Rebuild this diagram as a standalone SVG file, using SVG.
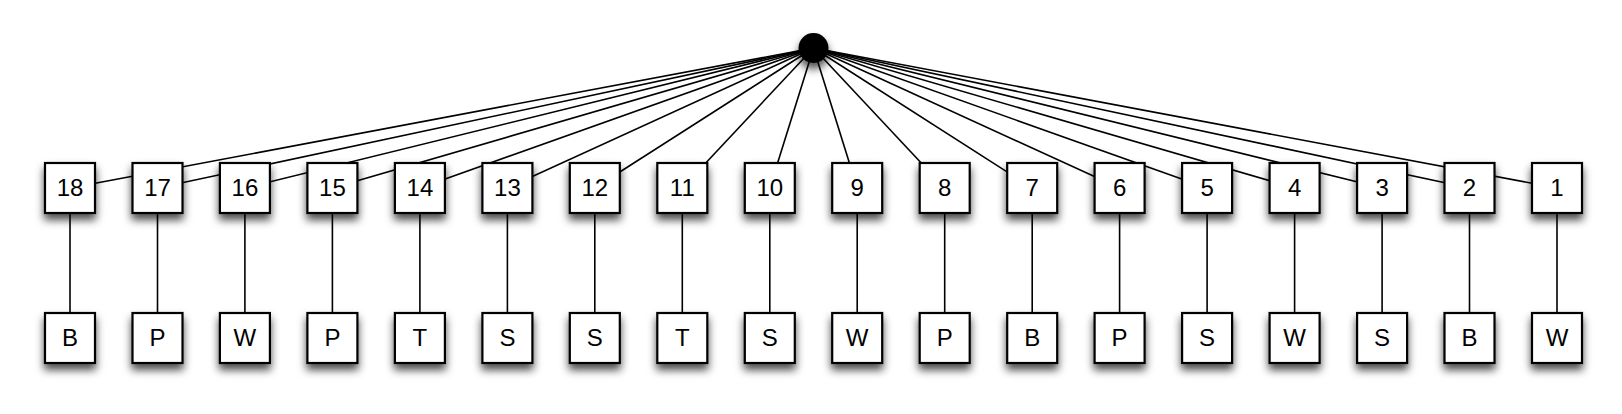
<svg xmlns="http://www.w3.org/2000/svg" width="1622" height="414" viewBox="0 0 1622 414">
<style>
.box{fill:#fff;stroke:#000;stroke-width:2.2;filter:url(#sh)}
.lbl{font-family:"Liberation Sans",Arial,sans-serif;font-size:24px;text-anchor:middle;fill:#000}
.e{stroke:#000;stroke-width:1.6;fill:none}
</style>
<defs>
<filter id="sh" x="-40%" y="-40%" width="180%" height="200%">
<feDropShadow dx="0" dy="6" stdDeviation="4.5" flood-color="#000" flood-opacity="0.7"/>
</filter>
</defs>
<rect width="1622" height="414" fill="#fff"/>
<g id="connectors">
<line class="e" x1="813.5" y1="48" x2="70" y2="188"/>
<line class="e" x1="813.5" y1="48" x2="157.5" y2="188"/>
<line class="e" x1="813.5" y1="48" x2="244.9" y2="188"/>
<line class="e" x1="813.5" y1="48" x2="332.4" y2="188"/>
<line class="e" x1="813.5" y1="48" x2="419.9" y2="188"/>
<line class="e" x1="813.5" y1="48" x2="507.4" y2="188"/>
<line class="e" x1="813.5" y1="48" x2="594.8" y2="188"/>
<line class="e" x1="813.5" y1="48" x2="682.3" y2="188"/>
<line class="e" x1="813.5" y1="48" x2="769.8" y2="188"/>
<line class="e" x1="813.5" y1="48" x2="857.2" y2="188"/>
<line class="e" x1="813.5" y1="48" x2="944.7" y2="188"/>
<line class="e" x1="813.5" y1="48" x2="1032.2" y2="188"/>
<line class="e" x1="813.5" y1="48" x2="1119.6" y2="188"/>
<line class="e" x1="813.5" y1="48" x2="1207.1" y2="188"/>
<line class="e" x1="813.5" y1="48" x2="1294.6" y2="188"/>
<line class="e" x1="813.5" y1="48" x2="1382.1" y2="188"/>
<line class="e" x1="813.5" y1="48" x2="1469.5" y2="188"/>
<line class="e" x1="813.5" y1="48" x2="1557" y2="188"/>
<line class="e" x1="70" y1="188" x2="70" y2="338"/>
<line class="e" x1="157.5" y1="188" x2="157.5" y2="338"/>
<line class="e" x1="244.9" y1="188" x2="244.9" y2="338"/>
<line class="e" x1="332.4" y1="188" x2="332.4" y2="338"/>
<line class="e" x1="419.9" y1="188" x2="419.9" y2="338"/>
<line class="e" x1="507.4" y1="188" x2="507.4" y2="338"/>
<line class="e" x1="594.8" y1="188" x2="594.8" y2="338"/>
<line class="e" x1="682.3" y1="188" x2="682.3" y2="338"/>
<line class="e" x1="769.8" y1="188" x2="769.8" y2="338"/>
<line class="e" x1="857.2" y1="188" x2="857.2" y2="338"/>
<line class="e" x1="944.7" y1="188" x2="944.7" y2="338"/>
<line class="e" x1="1032.2" y1="188" x2="1032.2" y2="338"/>
<line class="e" x1="1119.6" y1="188" x2="1119.6" y2="338"/>
<line class="e" x1="1207.1" y1="188" x2="1207.1" y2="338"/>
<line class="e" x1="1294.6" y1="188" x2="1294.6" y2="338"/>
<line class="e" x1="1382.1" y1="188" x2="1382.1" y2="338"/>
<line class="e" x1="1469.5" y1="188" x2="1469.5" y2="338"/>
<line class="e" x1="1557" y1="188" x2="1557" y2="338"/>
</g>
<g id="root"><circle cx="813.5" cy="48" r="15" fill="#000" filter="url(#sh)"/></g>
<g id="n18"><rect class="box" x="45" y="163" width="50" height="50"/><text class="lbl" x="70" y="196">18</text></g>
<g id="n17"><rect class="box" x="132.5" y="163" width="50" height="50"/><text class="lbl" x="157.5" y="196">17</text></g>
<g id="n16"><rect class="box" x="219.9" y="163" width="50" height="50"/><text class="lbl" x="244.9" y="196">16</text></g>
<g id="n15"><rect class="box" x="307.4" y="163" width="50" height="50"/><text class="lbl" x="332.4" y="196">15</text></g>
<g id="n14"><rect class="box" x="394.9" y="163" width="50" height="50"/><text class="lbl" x="419.9" y="196">14</text></g>
<g id="n13"><rect class="box" x="482.4" y="163" width="50" height="50"/><text class="lbl" x="507.4" y="196">13</text></g>
<g id="n12"><rect class="box" x="569.8" y="163" width="50" height="50"/><text class="lbl" x="594.8" y="196">12</text></g>
<g id="n11"><rect class="box" x="657.3" y="163" width="50" height="50"/><text class="lbl" x="682.3" y="196">11</text></g>
<g id="n10"><rect class="box" x="744.8" y="163" width="50" height="50"/><text class="lbl" x="769.8" y="196">10</text></g>
<g id="n9"><rect class="box" x="832.2" y="163" width="50" height="50"/><text class="lbl" x="857.2" y="196">9</text></g>
<g id="n8"><rect class="box" x="919.7" y="163" width="50" height="50"/><text class="lbl" x="944.7" y="196">8</text></g>
<g id="n7"><rect class="box" x="1007.2" y="163" width="50" height="50"/><text class="lbl" x="1032.2" y="196">7</text></g>
<g id="n6"><rect class="box" x="1094.6" y="163" width="50" height="50"/><text class="lbl" x="1119.6" y="196">6</text></g>
<g id="n5"><rect class="box" x="1182.1" y="163" width="50" height="50"/><text class="lbl" x="1207.1" y="196">5</text></g>
<g id="n4"><rect class="box" x="1269.6" y="163" width="50" height="50"/><text class="lbl" x="1294.6" y="196">4</text></g>
<g id="n3"><rect class="box" x="1357.1" y="163" width="50" height="50"/><text class="lbl" x="1382.1" y="196">3</text></g>
<g id="n2"><rect class="box" x="1444.5" y="163" width="50" height="50"/><text class="lbl" x="1469.5" y="196">2</text></g>
<g id="n1"><rect class="box" x="1532" y="163" width="50" height="50"/><text class="lbl" x="1557" y="196">1</text></g>
<g id="l18"><rect class="box" x="45" y="313" width="50" height="50"/><text class="lbl" x="70" y="346">B</text></g>
<g id="l17"><rect class="box" x="132.5" y="313" width="50" height="50"/><text class="lbl" x="157.5" y="346">P</text></g>
<g id="l16"><rect class="box" x="219.9" y="313" width="50" height="50"/><text class="lbl" x="244.9" y="346">W</text></g>
<g id="l15"><rect class="box" x="307.4" y="313" width="50" height="50"/><text class="lbl" x="332.4" y="346">P</text></g>
<g id="l14"><rect class="box" x="394.9" y="313" width="50" height="50"/><text class="lbl" x="419.9" y="346">T</text></g>
<g id="l13"><rect class="box" x="482.4" y="313" width="50" height="50"/><text class="lbl" x="507.4" y="346">S</text></g>
<g id="l12"><rect class="box" x="569.8" y="313" width="50" height="50"/><text class="lbl" x="594.8" y="346">S</text></g>
<g id="l11"><rect class="box" x="657.3" y="313" width="50" height="50"/><text class="lbl" x="682.3" y="346">T</text></g>
<g id="l10"><rect class="box" x="744.8" y="313" width="50" height="50"/><text class="lbl" x="769.8" y="346">S</text></g>
<g id="l9"><rect class="box" x="832.2" y="313" width="50" height="50"/><text class="lbl" x="857.2" y="346">W</text></g>
<g id="l8"><rect class="box" x="919.7" y="313" width="50" height="50"/><text class="lbl" x="944.7" y="346">P</text></g>
<g id="l7"><rect class="box" x="1007.2" y="313" width="50" height="50"/><text class="lbl" x="1032.2" y="346">B</text></g>
<g id="l6"><rect class="box" x="1094.6" y="313" width="50" height="50"/><text class="lbl" x="1119.6" y="346">P</text></g>
<g id="l5"><rect class="box" x="1182.1" y="313" width="50" height="50"/><text class="lbl" x="1207.1" y="346">S</text></g>
<g id="l4"><rect class="box" x="1269.6" y="313" width="50" height="50"/><text class="lbl" x="1294.6" y="346">W</text></g>
<g id="l3"><rect class="box" x="1357.1" y="313" width="50" height="50"/><text class="lbl" x="1382.1" y="346">S</text></g>
<g id="l2"><rect class="box" x="1444.5" y="313" width="50" height="50"/><text class="lbl" x="1469.5" y="346">B</text></g>
<g id="l1"><rect class="box" x="1532" y="313" width="50" height="50"/><text class="lbl" x="1557" y="346">W</text></g>
</svg>
